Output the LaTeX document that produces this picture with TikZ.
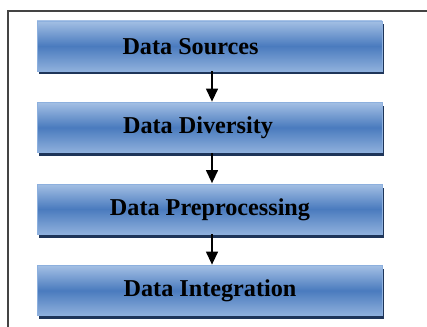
\documentclass[tikz,border=0pt]{standalone}
\usepackage{fontspec}
\setmainfont{Liberation Serif}
\usetikzlibrary{arrows.meta,shadows}
\definecolor{barlight}{HTML}{A3BFE4}
\definecolor{barmid}{HTML}{4A7BBE}
\definecolor{barlow}{HTML}{8FB0DC}
\definecolor{baredge}{HTML}{8DB0DE}
\definecolor{barshadow}{HTML}{1E3559}
\definecolor{framegray}{HTML}{444444}
\tikzset{
  stagebox/.style={rectangle, draw=baredge, line width=0.8pt,
    top color=barlight, bottom color=barlow, middle color=barmid,
    minimum width=345pt, minimum height=50pt, inner sep=0pt,
    general shadow={fill=barshadow, shadow xshift=2pt, shadow yshift=-3.5pt}},
  stagetext/.style={font=\fontsize{24.2}{28}\selectfont\bfseries, text=black, inner sep=0pt},
  flow/.style={-{Triangle[length=13pt,width=12pt]}, line width=1.3pt, black, shorten >=0.5pt},
  frameline/.style={draw=framegray, line width=1.6pt}
}
\begin{document}
\begin{tikzpicture}[x=1pt,y=-1pt]
  \useasboundingbox (0,0) rectangle (427,326);
  % outer frame (top and left edges)
  \coordinate (fb) at (8,327);
  \coordinate (fc) at (8,11);
  \coordinate (fr) at (428,11);
  \draw[frameline] (fb) -- (fc) -- (fr);
  % stage bars
  \node[stagebox] (s1) at (209.5,46)  {};
  \node[stagebox] (s2) at (209.5,127.5) {};
  \node[stagebox] (s3) at (209.5,209) {};
  \node[stagebox] (s4) at (209.5,290.5) {};
  % captions
  \node[stagetext] (t1) at (190.5,46.5)  {Data Sources};
  \node[stagetext] (t2) at (198,128)     {Data Diversity};
  \node[stagetext] (t3) at (210,209.5)   {Data Preprocessing};
  \node[stagetext] (t4) at (210,291)     {Data Integration};
  % connectors
  \draw[flow] ([xshift=2.5pt]s1.south) -- ([xshift=2.5pt]s2.north);
  \draw[flow] ([xshift=2.5pt]s2.south) -- ([xshift=2.5pt]s3.north);
  \draw[flow] ([xshift=2.5pt]s3.south) -- ([xshift=2.5pt]s4.north);
\end{tikzpicture}
\end{document}
